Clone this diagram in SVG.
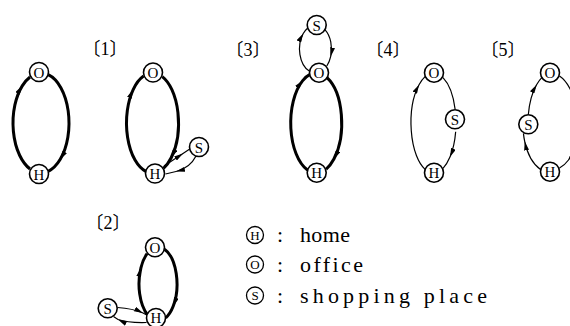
<svg xmlns="http://www.w3.org/2000/svg" width="570" height="326" viewBox="0 0 570 326">
<style>
.thick{fill:none;stroke:#000;stroke-width:3}
.thin{fill:none;stroke:#000;stroke-width:1.2}
.arr{marker-mid:url(#ah)}
.node circle{fill:#fff;stroke:#000;stroke-width:1.6}
.node text{font-size:15px;text-anchor:middle}
.lab{font-size:18px;text-anchor:middle}
.leg circle{fill:#fff;stroke:#000;stroke-width:1.3}
.leg .sym{font-size:13px;text-anchor:middle}
.leg .txt{font-size:22px}
.sf{font-family:"Liberation Serif","Times New Roman","DejaVu Serif","Noto Sans CJK JP",serif}
</style>
<defs>
<marker id="ah" viewBox="0 0 9 5" refX="9" refY="2.5" markerWidth="9" markerHeight="5" orient="auto" markerUnits="userSpaceOnUse">
<path d="M0,0 L9,2.5 L0,5 z" fill="#000"/>
</marker>
</defs>

<g id="labels" class="sf">
<text class="lab" x="105" y="55">〔1〕</text>
<text class="lab" x="248" y="56">〔3〕</text>
<text class="lab" x="388" y="56">〔4〕</text>
<text class="lab" x="503" y="56">〔5〕</text>
<text class="lab" x="108" y="229">〔2〕</text>
</g>

<g id="connectors">
<path class="thick arr" d="M30.06,169.03 A28,50 0 0 1 22.27,85.84 A28,50 0 0 1 30.06,76.97"/>
<path class="thick arr" d="M48.25,74.70 A28,50 0 0 1 60.10,159.57 A28,50 0 0 1 48.25,171.30"/>
<path class="thick arr" d="M145.77,171.30 A26,50 0 0 1 133.18,89.54 A26,50 0 0 1 143.61,76.02"/>
<path class="thick arr" d="M162.24,76.64 A26,50 0 0 1 171.20,157.73 A26,50 0 0 1 163.49,168.32"/>
<path class="thin arr" d="M164,166 L183,153.5 L190.5,148.5"/>
<path class="thin arr" d="M196,156 Q190,168 176,171.5 L165.5,174"/>
<path class="thin arr" d="M309.25,71.09 A16,24 0 0 1 303.24,33.57 A16,24 0 0 1 307.5,28.22"/>
<path class="thin arr" d="M325.13,29.83 A16,24 0 0 1 330.72,56.42 A16,24 0 0 1 326.81,65.97"/>
<path class="thick arr" d="M307.48,169.98 A25.5,50 0 0 1 302.69,80.60 A25.5,50 0 0 1 309.60,74.70"/>
<path class="thick arr" d="M326.98,77.68 A25.5,50 0 0 1 333.91,158.97 A25.5,50 0 0 1 326.16,169.03"/>
<path class="thin arr" d="M425.07,169.36 A22.5,50 0 0 1 419.04,84.70 A22.5,50 0 0 1 425.07,76.64"/>
<path class="thin" d="M443.01,77.68 A22.5,50 0 0 1 455.13,109.22"/>
<path class="thin arr" d="M455.66,131.68 A22.5,50 0 0 1 449.96,157.10 A22.5,50 0 0 1 443.01,168.32"/>
<path class="thin arr" d="M528.36,114.32 A24,50 0 0 1 536.57,84.70 A24,50 0 0 1 541.86,77.68"/>
<path class="thin arr" d="M540.51,169.50 A28,48 0 0 1 524.69,141.42 A28,48 0 0 1 523.43,133.33"/>
<path class="thin arr" d="M559.5,76 A27,50 0 0 1 568.5,160 A27,50 0 0 1 559.5,168"/>
<path class="thick arr" d="M147.65,315.03 A19,37 0 0 1 140.92,267.78 A19,37 0 0 1 147.10,253.69"/>
<path class="thick arr" d="M164.50,249.23 A19,37 0 0 1 173.17,306.27 A19,37 0 0 1 165.73,317.80"/>
<path class="thin arr" d="M117.5,307.5 Q133,308.5 143,313 L146.8,315"/>
<path class="thin arr" d="M146.5,322.5 Q128,323 118,319.5 L113.5,316.5"/>
</g>

<g class="sf">
<g id="d0-O" class="node"><circle cx="39" cy="72" r="9.5"/><text x="39" y="77.5">O</text></g>
<g id="d0-H" class="node"><circle cx="39" cy="174" r="9.5"/><text x="39" y="179.5">H</text></g>
<g id="d1-O" class="node"><circle cx="153" cy="72.5" r="9.5"/><text x="153" y="78">O</text></g>
<g id="d1-H" class="node"><circle cx="155" cy="173.5" r="9.5"/><text x="155" y="179">H</text></g>
<g id="d1-S" class="node"><circle cx="199" cy="147" r="9.5"/><text x="199" y="152.5">S</text></g>
<g id="d3-S" class="node"><circle cx="316.7" cy="25" r="9.5"/><text x="316.7" y="30.5">S</text></g>
<g id="d3-O" class="node"><circle cx="319" cy="72.7" r="9.5"/><text x="319" y="78.2">O</text></g>
<g id="d3-H" class="node"><circle cx="316.7" cy="172.7" r="9.5"/><text x="316.7" y="178.2">H</text></g>
<g id="d4-O" class="node"><circle cx="434" cy="72.7" r="9.5"/><text x="434" y="78.2">O</text></g>
<g id="d4-S" class="node"><circle cx="455" cy="119.3" r="9.5"/><text x="455" y="124.8">S</text></g>
<g id="d4-H" class="node"><circle cx="434" cy="172.7" r="9.5"/><text x="434" y="178.2">H</text></g>
<g id="d5-O" class="node"><circle cx="550" cy="72.7" r="9.5"/><text x="550" y="78.2">O</text></g>
<g id="d5-S" class="node"><circle cx="528.3" cy="124.3" r="9.5"/><text x="528.3" y="129.8">S</text></g>
<g id="d5-H" class="node"><circle cx="550" cy="171.7" r="9.5"/><text x="550" y="177.2">H</text></g>
<g id="d2-O" class="node"><circle cx="155" cy="247.3" r="9.5"/><text x="155" y="252.8">O</text></g>
<g id="d2-S" class="node"><circle cx="107.7" cy="308.3" r="9.5"/><text x="107.7" y="313.8">S</text></g>
<g id="d2-H" class="node"><circle cx="156" cy="318" r="9.5"/><text x="156" y="323">H</text></g>

<g id="legend" class="leg">
<circle cx="255" cy="235" r="8.5"/><text class="sym" x="255" y="239.5">H</text>
<text class="txt" x="277" y="242">:</text>
<text class="txt" x="300" y="242" textLength="50" lengthAdjust="spacing">home</text>
<circle cx="255" cy="264.5" r="8.5"/><text class="sym" x="255" y="269">O</text>
<text class="txt" x="277" y="271.5">:</text>
<text class="txt" x="300" y="271.5" textLength="63" lengthAdjust="spacing">office</text>
<circle cx="255" cy="295.5" r="8.5"/><text class="sym" x="255" y="300">S</text>
<text class="txt" x="277" y="302.5">:</text>
<text class="txt" x="300" y="302.5" textLength="187" lengthAdjust="spacing">shopping place</text>
</g>
</g>
</svg>
